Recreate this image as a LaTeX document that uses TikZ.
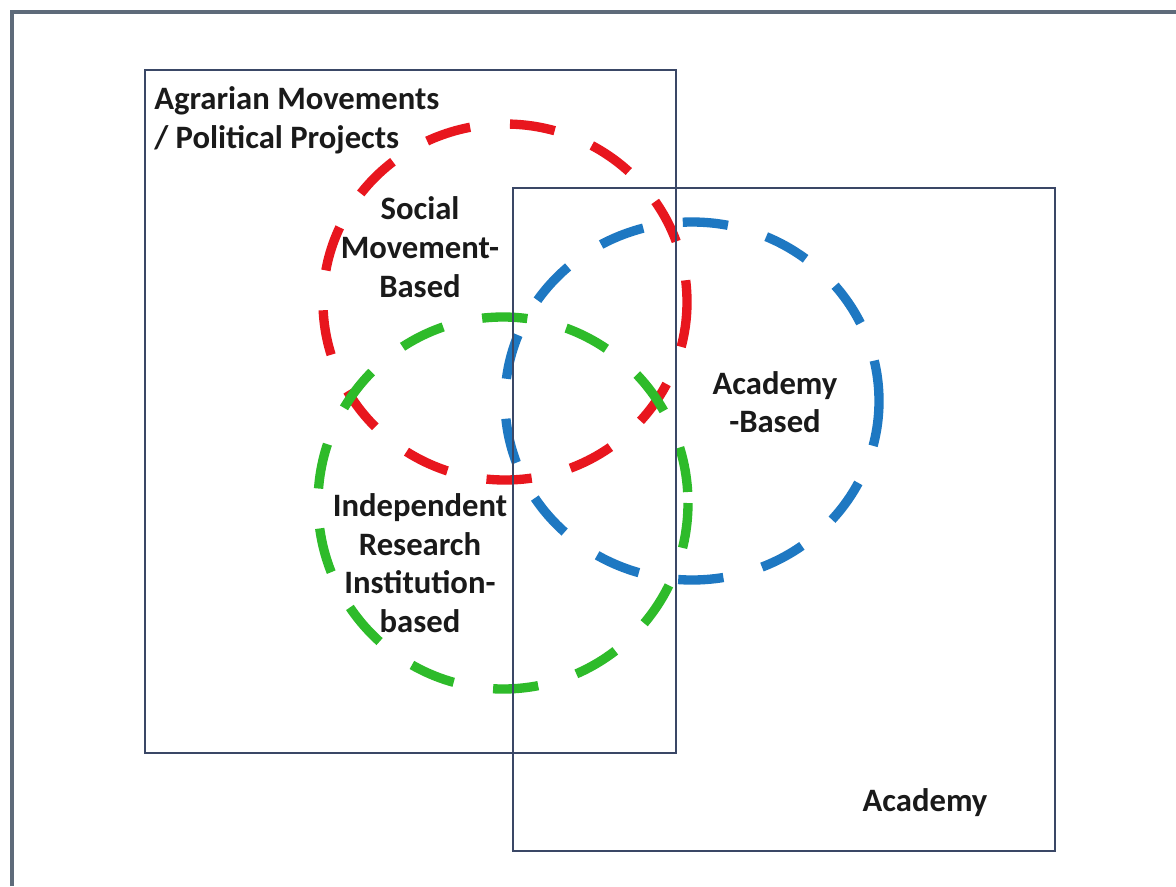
\documentclass[tikz,border=0pt]{standalone}
\usepackage{fontspec}
\setmainfont{Carlito}
\definecolor{frame}{HTML}{5E6B7A}
\definecolor{boxc}{HTML}{3A4766}
\definecolor{cred}{HTML}{E8161E}
\definecolor{cgreen}{HTML}{2EBB2A}
\definecolor{cblue}{HTML}{1E78C2}
\definecolor{txt}{HTML}{1A1A1A}
\tikzset{
  setbox/.style={draw=boxc, line width=1.6pt},
  ring/.style={line width=7pt, dash pattern=on 34pt off 30pt},
  lbl/.style={font=\fontsize{24.5}{29}\selectfont\bfseries, text=txt, align=center, inner sep=0pt},
}
\begin{document}
\begin{tikzpicture}[x=0.75pt,y=-0.75pt]
\useasboundingbox (0,0) rectangle (1176,886);
\fill[white] (0,0) rectangle (1176,886);
% outer frame (top and left visible)
\coordinate (fbl) at (12,886);
\coordinate (ftl) at (12,12);
\coordinate (ftr) at (1176,12);
\draw[frame, line width=2.4pt] (fbl) -- (ftl) -- (ftr);
% circles
\draw[ring, cred] (505,302) ellipse [x radius=182, y radius=178];
\draw[ring, cgreen] (503,503) ellipse [x radius=185, y radius=186];
\draw[ring, cblue] (692,401) ellipse [x radius=187, y radius=179];
% boxes
\node[setbox, minimum width=531*0.75pt, minimum height=683*0.75pt, inner sep=0pt] (agrbox) at (410.5,411.5) {};
\node[setbox, minimum width=542*0.75pt, minimum height=663*0.75pt, inner sep=0pt] (acabox) at (784,519.5) {};
% labels
\node[lbl, anchor=west, align=left] (agr) at (154,120) {Agrarian Movements\\/ Political Projects};
\node[lbl] (smb) at (420,247) {Social\\Movement-\\Based};
\node[lbl] (irib) at (420,563) {Independent\\Research\\Institution-\\based};
\node[lbl] (acb) at (775,402) {Academy\\-Based};
\node[lbl] (aca) at (925,803) {Academy};
\end{tikzpicture}
\end{document}
